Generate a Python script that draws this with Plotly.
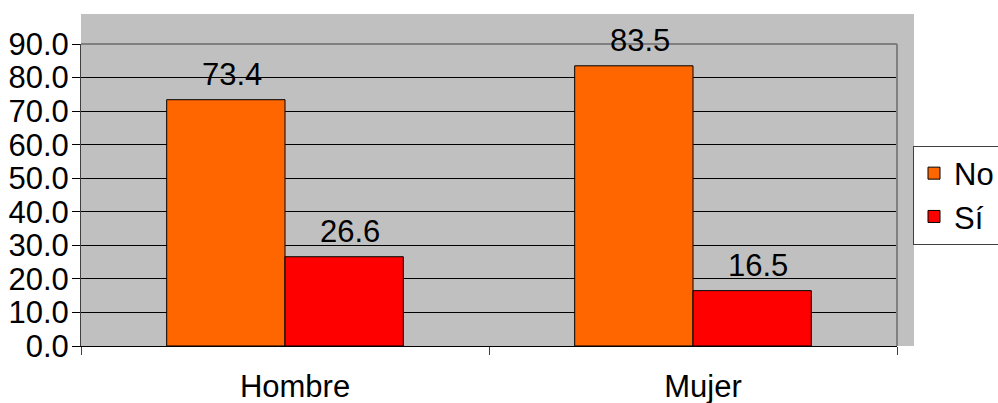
import plotly.graph_objects as go

# Categories and series values
categories = ["Hombre", "Mujer"]
no_values = [73.4, 83.5]
si_values = [26.6, 16.5]
series_names = ["No", "Sí"]
y_ticks = [0, 10, 20, 30, 40, 50, 60, 70, 80, 90]

FONT = "Arial, Liberation Sans, sans-serif"
FS = 31

fig = go.Figure()
fig.add_trace(go.Bar(
    x=categories, y=no_values, name=series_names[0], offsetgroup="no",
    marker=dict(color="#FF6600", line=dict(color="#000000", width=1)),
))
fig.add_trace(go.Bar(
    x=categories, y=si_values, name=series_names[1], offsetgroup="si",
    marker=dict(color="#FF0000", line=dict(color="#000000", width=1)),
))

L, R, T, B = 81, 101, 44, 57
W, H = 998, 403
pw, ph = W - L - R, H - T - B

# Value labels above each bar (centre of each bar within its category slot)
bar_offsets = [-0.145, 0.145]
for offset, values in zip(bar_offsets, [no_values, si_values]):
    for i, v in enumerate(values):
        fig.add_annotation(
            x=i + offset, y=v, xref="x", yref="y",
            text=f"{v:.1f}", showarrow=False,
            yanchor="bottom", xanchor="center", yshift=6, xshift=6,
            font=dict(size=FS, family=FONT, color="#000000"),
        )

# Gray wall behind the plot area, extending past the top and right borders
fig.add_shape(type="rect", xref="paper", yref="paper", layer="below",
              x0=0, x1=(914 - L) / pw, y0=0, y1=(H - B - 14) / ph,
              fillcolor="#C0C0C0", line=dict(width=0))
# Top and right plot-area borders
fig.add_shape(type="line", xref="paper", yref="paper", layer="above",
              x0=0, x1=1, y0=1, y1=1, line=dict(color="#808080", width=2))
fig.add_shape(type="line", xref="paper", yref="paper", layer="above",
              x0=1, x1=1, y0=0, y1=1, line=dict(color="#808080", width=2))

fig.update_layout(
    width=W, height=H,
    margin=dict(l=L, r=R, t=T, b=B, pad=0, autoexpand=False),
    paper_bgcolor="#FFFFFF", plot_bgcolor="#C0C0C0",
    font=dict(family=FONT, size=FS, color="#000000"),
    barmode="group", bargap=0.42, bargroupgap=0,
    showlegend=True,
    legend=dict(
        x=(913 - L) / pw, xanchor="left", y=0.50, yanchor="middle",
        bgcolor="#FFFFFF", bordercolor="#404040", borderwidth=1,
        font=dict(size=FS, family=FONT), itemwidth=30,
        tracegroupgap=0,
    ),
    xaxis=dict(
        showline=True, linecolor="#000000", linewidth=1,
        ticks="outside", tickson="boundaries", ticklen=8,
        tickcolor="#404040", tickfont=dict(size=FS),
        ticklabelshift=10, ticklabelstandoff=13,
        showgrid=False, fixedrange=True,
    ),
    yaxis=dict(
        range=[0, 90], tickvals=y_ticks, tickformat=".1f",
        showline=True, linecolor="#404040", linewidth=1,
        ticks="outside", ticklen=8, tickcolor="#000000",
        ticklabelstandoff=-3,
        showgrid=True, gridcolor="#000000", gridwidth=1,
        zeroline=False, tickfont=dict(size=FS), fixedrange=True,
    ),
)

fig.write_html("out.html")
